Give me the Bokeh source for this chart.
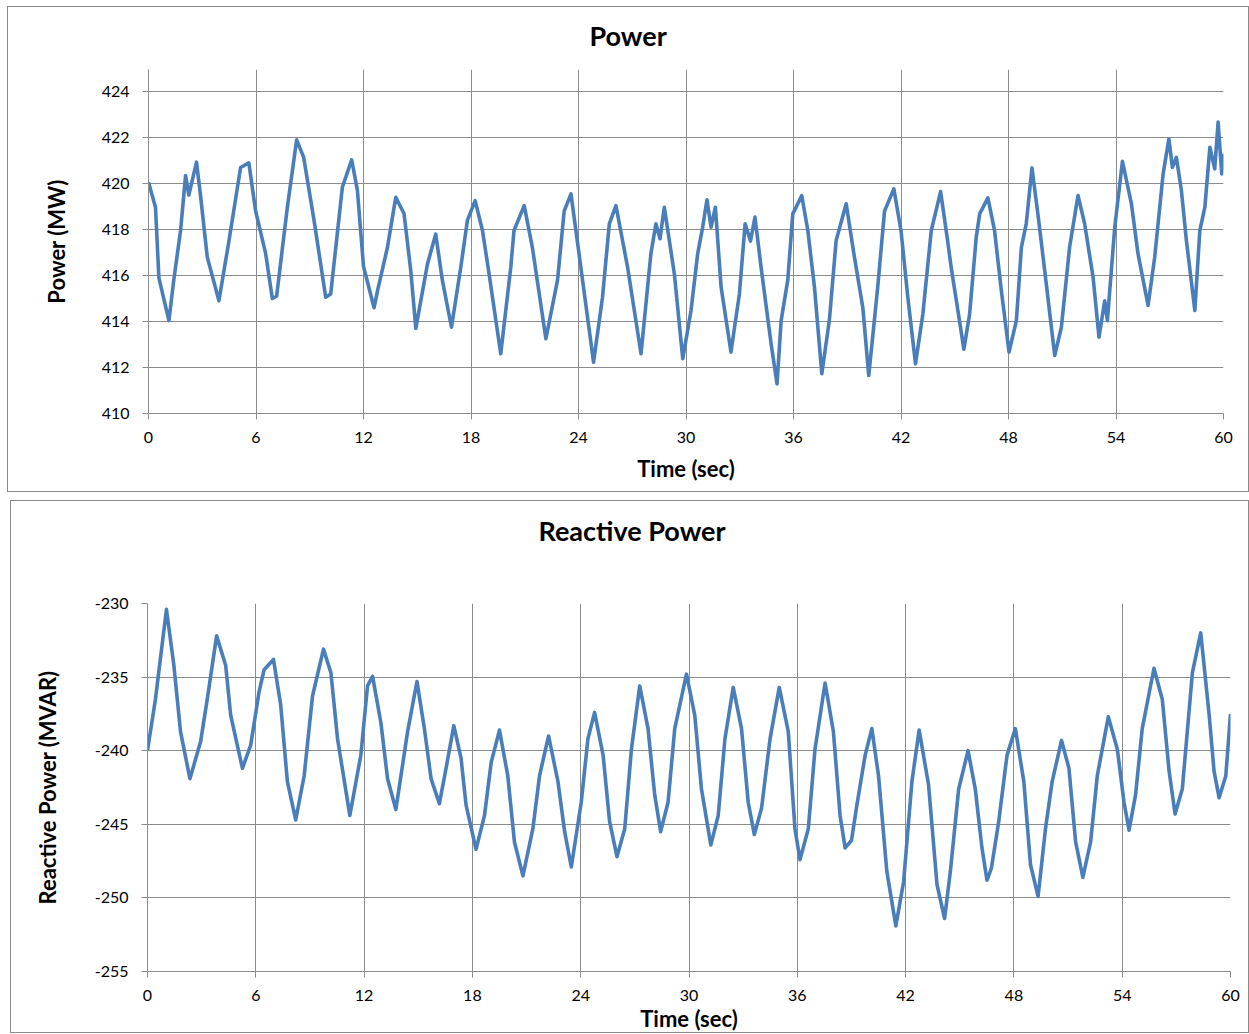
from bokeh.plotting import figure
from bokeh.models import FixedTicker, Range1d, Title, CustomJSTickFormatter
from bokeh.embed import file_html
from bokeh.resources import INLINE

# ---------------- data ----------------
time_ticks = [0, 6, 12, 18, 24, 30, 36, 42, 48, 54, 60]
power_ticks = [410, 412, 414, 416, 418, 420, 422, 424]
reactive_ticks = [-255, -250, -245, -240, -235, -230]

power_t = [0.0, 0.39, 0.58, 1.14, 1.41, 1.79, 2.07, 2.25, 2.68, 2.9, 3.28, 3.93, 4.49,
           5.14, 5.6, 5.98, 6.54, 6.91, 7.15, 7.75, 8.27, 8.66, 9.24, 9.89, 10.17,
           10.82, 11.34, 11.66, 12.0, 12.59, 12.8, 13.33, 13.8, 14.26, 14.64, 14.92,
           15.57, 16.03, 16.4, 16.91, 17.43, 17.8, 18.23, 18.64, 19.01, 19.66, 20.22,
           20.4, 20.97, 21.43, 22.18, 22.83, 23.2, 23.58, 24.13, 24.84, 25.34, 25.72,
           26.09, 26.74, 27.49, 28.04, 28.32, 28.55, 28.79, 29.35, 29.82, 30.28, 30.65,
           30.93, 31.17, 31.4, 31.64, 31.96, 32.51, 32.98, 33.3, 33.6, 33.85, 34.19,
           34.75, 35.08, 35.31, 35.68, 35.96, 36.1, 36.46, 36.8, 37.17, 37.58, 38.0,
           38.38, 38.94, 39.4, 39.87, 40.2, 40.7, 41.08, 41.6, 42.0, 42.38, 42.81,
           43.22, 43.69, 44.21, 44.6, 44.8, 45.51, 45.83, 46.2, 46.39, 46.85, 47.22,
           47.6, 48.03, 48.44, 48.72, 48.99, 49.31, 49.64, 50.02, 50.58, 50.95, 51.41,
           51.88, 52.25, 52.72, 53.05, 53.37, 53.52, 53.93, 54.36, 54.86, 55.23, 55.79,
           56.16, 56.63, 56.95, 57.15, 57.37, 57.65, 57.93, 58.4, 58.68, 58.96, 59.24,
           59.51, 59.7, 59.9, 60.0]
power_mw = [420.06, 418.97, 415.9, 414.04, 415.8, 417.96, 420.35, 419.5, 420.93, 419.5,
            416.8, 414.9, 417.5, 420.7, 420.9, 418.8, 416.95, 415.0, 415.1, 418.97,
            421.9, 421.14, 418.4, 415.06, 415.2, 419.84, 421.03, 419.7, 416.4, 414.6,
            415.4, 417.2, 419.4, 418.7, 416.2, 413.7, 416.5, 417.8, 415.8, 413.75,
            416.36, 418.4, 419.26, 417.96, 416.07, 412.6, 416.36, 417.96, 419.04, 417.2,
            413.25, 415.8, 418.8, 419.55, 416.36, 412.23, 415.06, 418.25, 419.04, 416.36,
            412.6, 416.94, 418.25, 417.6, 418.97, 416.07, 412.38, 414.48, 416.94, 418.1,
            419.29, 418.1, 418.97, 415.49, 412.67, 415.2, 418.25, 417.5, 418.54, 416.36,
            413.03, 411.29, 414.04, 415.8, 418.68, 418.9, 419.48, 417.96, 415.49, 411.73,
            414.04, 417.52, 419.12, 416.8, 414.6, 411.65, 415.49, 418.8, 419.77, 417.96,
            415.06, 412.16, 414.33, 417.96, 419.65, 417.52, 416.36, 412.8, 414.33, 417.67,
            418.68, 419.38, 417.96, 415.35, 412.67, 414.04, 417.23, 418.25, 420.68, 418.68,
            416.22, 412.52, 413.75, 417.23, 419.48, 418.25, 415.93, 413.32, 414.9, 414.04,
            418.1, 420.97, 419.12, 416.94, 414.7, 416.8, 420.42, 421.94, 420.7, 421.14,
            419.7, 417.52, 414.48, 417.96, 418.97, 421.58, 420.64, 422.67, 420.42, 421.3]

reactive_t = [0.0, 0.44, 1.05, 1.46, 1.83, 2.35, 2.94, 3.31, 3.83, 4.33, 4.61, 5.26, 5.72,
              6.18, 6.46, 6.98, 7.38, 7.75, 8.21, 8.68, 9.14, 9.75, 10.16, 10.53, 11.21,
              11.82, 12.19, 12.47, 12.93, 13.3, 13.76, 14.41, 14.93, 15.34, 15.71, 16.17,
              16.54, 16.97, 17.37, 17.65, 18.2, 18.67, 19.04, 19.5, 19.96, 20.33, 20.8,
              21.35, 21.72, 22.22, 22.74, 23.11, 23.48, 24.03, 24.4, 24.77, 25.24, 25.6,
              26.01, 26.44, 26.81, 27.27, 27.73, 28.1, 28.43, 28.84, 29.21, 29.86, 30.32,
              30.69, 31.21, 31.62, 31.99, 32.45, 32.91, 33.28, 33.62, 34.02, 34.49, 35.0,
              35.5, 35.87, 36.15, 36.61, 36.98, 37.54, 38.0, 38.37, 38.65, 39.0, 39.3,
              39.76, 40.13, 40.5, 40.96, 41.46, 41.89, 42.35, 42.75, 43.27, 43.74, 44.16,
              44.48, 44.94, 45.46, 45.86, 46.23, 46.51, 46.75, 47.16, 47.62, 48.08, 48.55,
              48.92, 49.34, 49.75, 50.12, 50.64, 51.05, 51.42, 51.82, 52.25, 52.62, 53.23,
              53.73, 54.1, 54.38, 54.74, 55.11, 55.76, 56.22, 56.6, 56.93, 57.33, 57.89,
              58.35, 58.82, 59.09, 59.37, 59.74, 60.0]
reactive_mvar = [-239.98, -236.5, -230.4, -234.2, -238.7, -241.9, -239.4, -236.5, -232.2,
                 -234.2, -237.6, -241.2, -239.6, -236.0, -234.5, -233.8, -236.9, -242.1,
                 -244.7, -241.7, -236.3, -233.1, -234.7, -239.2, -244.4, -240.3, -235.6,
                 -234.95, -238.1, -241.9, -244.0, -238.7, -235.3, -238.5, -241.9, -243.6,
                 -241.2, -238.3, -240.5, -243.7, -246.7, -244.4, -240.8, -238.6, -241.7,
                 -246.2, -248.5, -245.3, -241.7, -239.0, -242.1, -245.5, -247.9, -243.5,
                 -239.2, -237.4, -240.3, -244.8, -247.2, -245.3, -239.9, -235.6, -238.5,
                 -243.0, -245.5, -243.5, -238.5, -234.8, -237.6, -242.6, -246.4, -244.4,
                 -239.2, -235.7, -238.5, -243.5, -245.7, -243.9, -239.2, -235.7, -238.7,
                 -245.3, -247.4, -245.3, -239.9, -235.4, -238.7, -244.4, -246.6, -246.1,
                 -243.7, -240.3, -238.5, -241.7, -248.2, -251.9, -248.9, -242.1, -238.6,
                 -242.3, -249.1, -251.4, -248.2, -242.6, -240.0, -242.6, -246.6, -248.8,
                 -248.0, -244.8, -240.3, -238.5, -242.1, -247.75, -249.9, -245.3, -242.1,
                 -239.3, -241.2, -246.2, -248.6, -246.2, -241.7, -237.7, -239.9, -243.5,
                 -245.4, -243.0, -238.5, -234.4, -236.5, -241.4, -244.3, -242.6, -234.7,
                 -232.0, -237.6, -241.4, -243.2, -241.7, -237.5]

# ---------------- styling ----------------
FONT = "Lato"
GRAY = "#8c8c8c"
BLUE = "#4a7ebb"


def make_panel(title, ylabel, xs, ys, yticks, y_start, y_end, width, height, margin,
               b_left, b_right, b_top, b_bottom, title_offset, title_standoff,
               spacer_size, spacer_standoff, xlab_standoff, ylab_standoff):
    p = figure(width=width, height=height, output_backend="svg", toolbar_location=None,
               x_range=Range1d(0, 60), y_range=Range1d(y_start, y_end),
               min_border_left=b_left, min_border_right=b_right,
               min_border_top=b_top, min_border_bottom=b_bottom)
    p.margin = margin
    p.styles = {"border": "1px solid #8a8a8a", "box-sizing": "border-box"}
    p.outline_line_color = None
    p.background_fill_color = "white"
    p.border_fill_color = "white"

    for ax in (p.xaxis[0], p.yaxis[0]):
        ax.axis_line_color = GRAY
        ax.major_tick_line_color = GRAY
        ax.major_tick_out = 6
        ax.major_tick_in = 0
        ax.minor_tick_line_color = None
        ax.major_label_text_font = FONT
        ax.major_label_text_font_size = "16px"
        ax.major_label_text_color = "black"
        ax.axis_label_text_font = FONT
        ax.axis_label_text_font_size = "22px"
        ax.axis_label_text_font_style = "bold"
        ax.axis_label_text_color = "black"

    p.xaxis.ticker = FixedTicker(ticks=time_ticks)
    p.yaxis.ticker = FixedTicker(ticks=yticks)
    p.yaxis.formatter = CustomJSTickFormatter(code="return String(tick);")
    p.xaxis.axis_label = "Time (sec)"
    p.yaxis.axis_label = ylabel
    p.xaxis.major_label_standoff = 12
    p.yaxis.major_label_standoff = 13
    p.xaxis.axis_label_standoff = xlab_standoff
    p.yaxis.axis_label_standoff = ylab_standoff

    p.xgrid.ticker = FixedTicker(ticks=time_ticks)
    p.ygrid.ticker = FixedTicker(ticks=yticks)
    p.grid.grid_line_color = GRAY
    p.grid.grid_line_width = 1

    p.line(xs, ys, line_color=BLUE, line_width=3.6, line_join="round")

    # an empty spacer title between the frame and the chart title
    p.add_layout(Title(text=" ", text_font=FONT, text_font_size=spacer_size,
                       standoff=spacer_standoff), "above")
    p.add_layout(Title(text=title, text_font=FONT, text_font_size="27px",
                       text_font_style="bold", text_color="black", align="left",
                       offset=title_offset, vertical_align="middle",
                       standoff=title_standoff), "above")
    return p


p1 = make_panel("Power", "Power (MW)", power_t, power_mw, power_ticks, 410, 424.96,
                width=1242, height=486, margin=(6, 0, 0, 7),
                b_left=140, b_right=27, b_top=62, b_bottom=80,
                title_offset=441, title_standoff=21,
                spacer_size="3px", spacer_standoff=0,
                xlab_standoff=9, ylab_standoff=29)

p2 = make_panel("Reactive Power", "Reactive Power (MVAR)", reactive_t, reactive_mvar,
                reactive_ticks, -255, -230,
                width=1239, height=533, margin=(8, 0, 0, 10),
                b_left=136, b_right=20, b_top=102, b_bottom=62,
                title_offset=391, title_standoff=19,
                spacer_size="26px", spacer_standoff=12,
                xlab_standoff=1, ylab_standoff=31)

# two independent roots, so that the two frames are not aligned to each other
open("out.html", "w").write(file_html([p1, p2], INLINE))
